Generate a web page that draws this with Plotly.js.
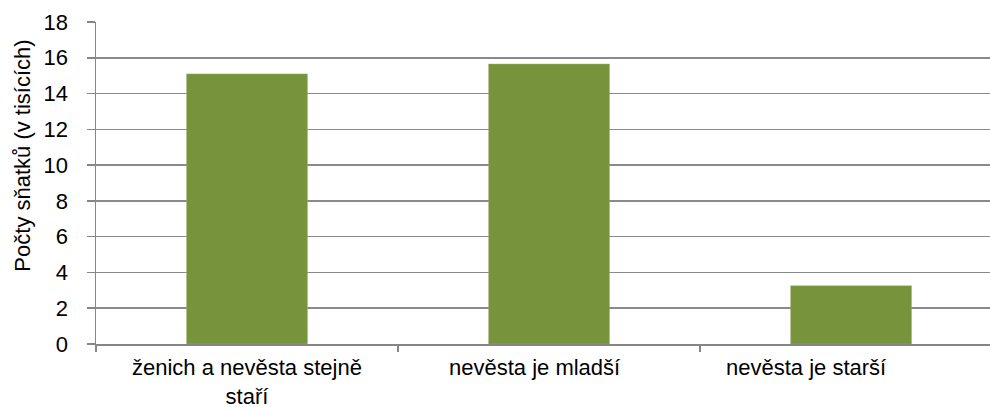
<!DOCTYPE html>
<html>
<head>
<meta charset="utf-8">
<script src="https://cdn.plot.ly/plotly-3.0.1.min.js"></script>
<style>html,body{margin:0;padding:0;background:#fff;}#chart{width:990px;height:410px;}</style>
</head>
<body>
<div id="chart"></div>
<script>
const categories = ["ženich a nevěsta stejně<br>staří", "nevěsta je mladší", "nevěsta je starší"];
const values = [15.1, 15.65, 3.25];
const yTitle = "Počty sňatků (v tisících)";

// horizontal label offsets (px), layout only
const labelShift = [0, -15, -45];

const trace = {
  type: "bar",
  x: categories,
  y: values,
  marker: {color: "#77933C", line: {color: "#9bb06a", width: 0.5}},
  hoverinfo: "skip"
};

const fam = "Liberation Sans, Arial, sans-serif";
const tickFont = {family: fam, size: 22, color: "#000"};

const annotations = categories.map((c, i) => ({
  x: c, xref: "x",
  y: 0, yref: "paper",
  xanchor: "center", yanchor: "top",
  yshift: -10, xshift: labelShift[i],
  text: c, showarrow: false, borderpad: 0,
  font: tickFont, align: "center"
}));

annotations.push({
  x: 0, xref: "paper", xshift: -73,
  y: 0.585, yref: "paper",
  xanchor: "center", yanchor: "middle",
  text: yTitle, textangle: -90, showarrow: false,
  font: {family: fam, size: 22, color: "#000"}
});

const layout = {
  width: 990,
  height: 410,
  margin: {l: 96, r: 0, t: 22, b: 66, pad: 0},
  paper_bgcolor: "#fff",
  plot_bgcolor: "#fff",
  showlegend: false,
  bargap: 0.6,
  font: tickFont,
  annotations: annotations,
  xaxis: {
    type: "category",
    range: [-0.5, 2.46],
    showgrid: false,
    showline: true,
    linecolor: "#868686",
    linewidth: 1.5,
    ticks: "outside",
    tickson: "boundaries",
    ticklen: 6,
    tickcolor: "#868686",
    tickwidth: 1.5,
    showticklabels: false,
    fixedrange: true
  },
  yaxis: {
    range: [0, 18],
    dtick: 2,
    tick0: 0,
    showgrid: true,
    gridcolor: "#8a8a8a",
    gridwidth: 1.5,
    zeroline: false,
    showline: true,
    linecolor: "#868686",
    linewidth: 1.5,
    ticks: "outside",
    ticklen: 8,
    tickcolor: "#868686",
    tickwidth: 1.5,
    ticklabelstandoff: 14,
    tickfont: tickFont,
    fixedrange: true
  }
};

Plotly.newPlot("chart", [trace], layout, {displayModeBar: false, staticPlot: true});
</script>
</body>
</html>
